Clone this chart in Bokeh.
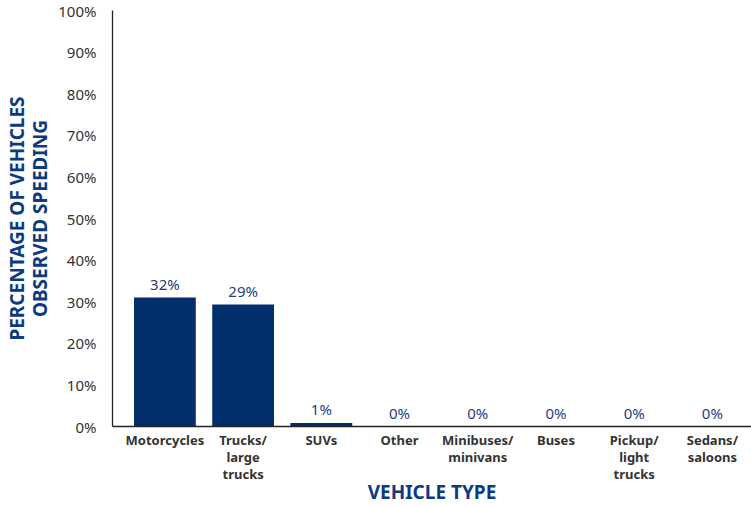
from bokeh.plotting import figure
from bokeh.models import ColumnDataSource, Range1d, FixedTicker, LabelSet
from bokeh.core.properties import value
from bokeh.embed import file_html
from bokeh.resources import INLINE

categories = ["Motorcycles", "Trucks/large trucks", "SUVs", "Other", "Minibuses/minivans",
              "Buses", "Pickup/light trucks", "Sedans/saloons"]
display_names = ["Motorcycles", "Trucks/\nlarge\ntrucks", "SUVs", "Other", "Minibuses/\nminivans",
                 "Buses", "Pickup/\nlight\ntrucks", "Sedans/\nsaloons"]
values = [31.0, 29.3, 0.85, 0, 0, 0, 0, 0]
value_labels = ["32%", "29%", "1%", "0%", "0%", "0%", "0%", "0%"]
y_ticks = [0, 10, 20, 30, 40, 50, 60, 70, 80, 90, 100]

NAVY = "#002f6c"
FONT = "Noto Sans"

pos = list(range(len(categories)))
src = ColumnDataSource(dict(x=pos, cat=categories, val=values, lab=value_labels))

p = figure(x_range=Range1d(-0.67, len(categories) - 0.5), y_range=Range1d(0, 100),
           width=751, height=507,
           output_backend="svg", toolbar_location=None,
           min_border_left=0, min_border_right=0, min_border_top=10, min_border_bottom=0)

p.vbar(x="x", top="val", width=0.79, source=src, color=NAVY, line_color=None)

labels = LabelSet(x="x", y="val", text="lab", source=src, text_align="center",
                  text_baseline="bottom", y_offset=4, text_color="#1f4080",
                  text_font=value(FONT), text_font_size="15px")
p.add_layout(labels)

p.outline_line_color = None
p.xgrid.grid_line_color = None
p.ygrid.grid_line_color = None

p.yaxis.ticker = FixedTicker(ticks=y_ticks)
p.yaxis.major_label_overrides = {t: f"{t}%" for t in y_ticks}
p.yaxis.major_tick_line_color = None
p.yaxis.minor_tick_line_color = None
p.yaxis.axis_line_color = "#222222"
p.yaxis.axis_line_width = 1.3
p.yaxis.major_label_text_font = FONT
p.yaxis.major_label_text_font_size = "15px"
p.yaxis.major_label_text_color = "#333333"
p.yaxis.major_label_standoff = 10
p.yaxis.axis_label = "PERCENTAGE OF VEHICLES\nOBSERVED SPEEDING"
p.yaxis.axis_label_text_font = FONT
p.yaxis.axis_label_text_font_style = "bold"
p.yaxis.axis_label_text_font_size = "19px"
p.yaxis.axis_label_text_line_height = 0.9
p.yaxis.axis_label_text_color = "#0b3a82"
p.yaxis.axis_label_standoff = 2

p.xaxis.ticker = FixedTicker(ticks=pos)
p.xaxis.major_label_overrides = dict(zip(pos, display_names))
p.xaxis.major_tick_line_color = None
p.xaxis.minor_tick_line_color = None
p.xaxis.axis_line_color = "#222222"
p.xaxis.axis_line_width = 1.3
p.xaxis.major_label_text_font = FONT
p.xaxis.major_label_text_font_style = "bold"
p.xaxis.major_label_text_font_size = "13px"
p.xaxis.major_label_text_line_height = 0.95
p.xaxis.major_label_text_color = "#333333"
p.xaxis.major_label_standoff = -2
p.xaxis.axis_label = "VEHICLE TYPE"
p.xaxis.axis_label_text_font = FONT
p.xaxis.axis_label_text_font_style = "bold"
p.xaxis.axis_label_text_font_size = "19px"
p.xaxis.axis_label_text_color = "#0b3a82"
p.xaxis.axis_label_standoff = -7

open("out.html", "w").write(file_html(p, INLINE))
